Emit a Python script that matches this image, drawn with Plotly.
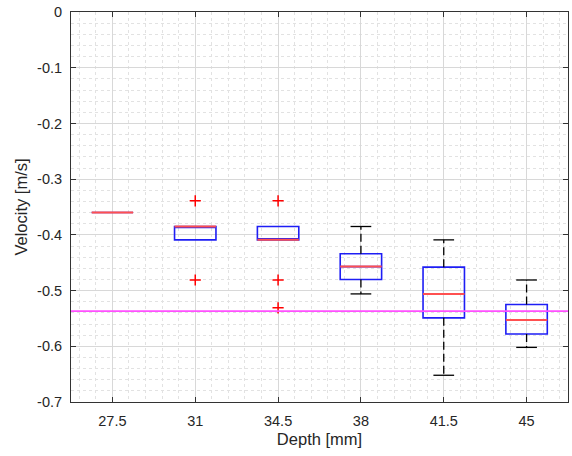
import plotly.graph_objects as go

# ---- data ----
depth_labels = ["27.5", "31", "34.5", "38", "41.5", "45"]
positions = [1, 2, 3, 4, 5, 6]
q1 = [-0.360, -0.409, -0.409, -0.480, -0.549, -0.578]
median = [-0.360, -0.385, -0.409, -0.457, -0.506, -0.553]
q3 = [-0.360, -0.385, -0.385, -0.434, -0.458, -0.525]
lower_whisker = [-0.360, -0.409, -0.409, -0.506, -0.652, -0.602]
upper_whisker = [-0.360, -0.385, -0.385, -0.385, -0.409, -0.481]
outliers = [[], [-0.339, -0.481], [-0.339, -0.481, -0.531], [], [], []]
reference_velocity = -0.537
y_tick_vals = [0, -0.1, -0.2, -0.3, -0.4, -0.5, -0.6, -0.7]
y_tick_text = ["0", "-0.1", "-0.2", "-0.3", "-0.4", "-0.5", "-0.6", "-0.7"]

BOX_W = 0.5
CAP_W = 0.25
FONT = "Liberation Sans, Arial, Helvetica, sans-serif"
TXT = "#262626"

fig = go.Figure()

# boxes (blue)
fig.add_trace(go.Box(
    x=positions, q1=q1, median=median, q3=q3,
    lowerfence=q1, upperfence=q3,
    width=BOX_W, line=dict(color="rgb(30,30,245)", width=1.6),
    fillcolor="rgba(0,0,0,0)", boxpoints=False, whiskerwidth=0,
    showlegend=False, hoverinfo="skip",
))

# whiskers (black dashed) and caps
wx, wy, cx, cy = [], [], [], []
for p, lo, hi, a, b in zip(positions, lower_whisker, upper_whisker, q1, q3):
    if hi > b:
        wx += [p, p, None]; wy += [b, hi, None]
        cx += [p - CAP_W / 2, p + CAP_W / 2, None]; cy += [hi, hi, None]
    if lo < a:
        wx += [p, p, None]; wy += [a, lo, None]
        cx += [p - CAP_W / 2, p + CAP_W / 2, None]; cy += [lo, lo, None]
fig.add_trace(go.Scatter(x=wx, y=wy, mode="lines",
                         line=dict(color="black", width=1.3, dash="8px,4px"),
                         showlegend=False, hoverinfo="skip"))
fig.add_trace(go.Scatter(x=cx, y=cy, mode="lines",
                         line=dict(color="black", width=1.3),
                         showlegend=False, hoverinfo="skip"))

# medians (red)
mx, my = [], []
for p, m in zip(positions, median):
    mx += [p - BOX_W / 2, p + BOX_W / 2, None]; my += [m, m, None]
fig.add_trace(go.Scatter(x=mx, y=my, mode="lines",
                         line=dict(color="rgb(255,80,80)", width=2),
                         showlegend=False, hoverinfo="skip"))

# outliers (red +)
ox, oy = [], []
for p, outs in zip(positions, outliers):
    for o in outs:
        ox.append(p); oy.append(o)
fig.add_trace(go.Scatter(x=ox, y=oy, mode="markers",
                         marker=dict(symbol="cross-thin", size=8,
                                     line=dict(color="red", width=1.5)),
                         showlegend=False, hoverinfo="skip"))

# reference velocity line (magenta)
fig.add_hline(y=reference_velocity, line=dict(color="rgb(255,80,255)", width=1.8), layer="above")

axis_common = dict(
    showline=True, linecolor="#333333", linewidth=1, mirror="allticks",
    ticks="inside", ticklen=5, tickcolor="#333333", tickwidth=1,
    showgrid=True, gridcolor="#d8d8d8", gridwidth=1, zeroline=False,
    tickfont=dict(family=FONT, size=14.5, color=TXT),
)

fig.update_layout(
    width=572, height=456,
    margin=dict(l=71, r=4, t=12, b=54),
    paper_bgcolor="white", plot_bgcolor="white",
    font=dict(family=FONT, color=TXT),
    xaxis=dict(
        range=[0.5, 6.5], tickmode="array", tickvals=positions, ticktext=depth_labels,
        minor=dict(tick0=0, dtick=0.2, showgrid=True, gridcolor="#e2e2e2",
                   griddash="dot", gridwidth=1, ticks=""),
        title=dict(text="Depth [mm]", font=dict(family=FONT, size=16.5, color=TXT), standoff=5),
        ticklabelstandoff=6,
        **axis_common,
    ),
    yaxis=dict(
        range=[-0.7, 0], tickmode="array", tickvals=y_tick_vals, ticktext=y_tick_text,
        minor=dict(tick0=0, dtick=0.02, showgrid=True, gridcolor="#e2e2e2",
                   griddash="dot", gridwidth=1, ticks=""),
        title=dict(text="Velocity [m/s]", font=dict(family=FONT, size=16.5, color=TXT), standoff=5),
        ticklabelstandoff=5,
        **axis_common,
    ),
)

fig.write_html("out.html", config={"displayModeBar": False},
               post_script="document.body.style.margin='0';document.body.style.overflow='hidden';")
